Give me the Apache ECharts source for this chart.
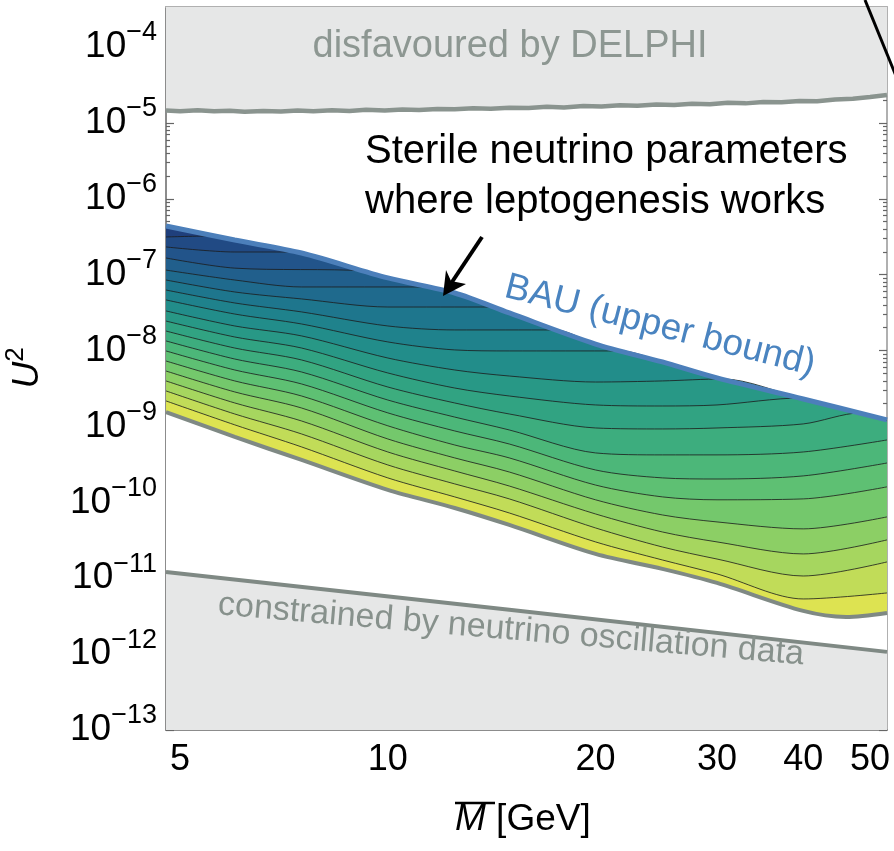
<!DOCTYPE html>
<html><head><meta charset="utf-8">
<script src="https://cdn.jsdelivr.net/npm/echarts@6/dist/echarts.min.js"></script>
<style>html,body{margin:0;padding:0;background:#fff}#c{width:894px;height:851px}</style>
</head><body><div id="c"></div>
<script>
const FONT = "'Liberation Sans', Arial, Helvetica, sans-serif";
// axis ranges
const xMin = 4.77, xMax = 52.9;
const yMin = 1e-13, yMax = 3.37e-4;
// tick labels
const xTickLabels = [5, 10, 20, 30, 40, 50];
const xMinorTickValues = [6, 7, 8, 9, 15, 25, 35, 45];
const yTickLabels = [1e-13, 1e-12, 1e-11, 1e-10, 1e-9, 1e-8, 1e-7, 1e-6, 1e-5, 1e-4];

// boundaries [M (GeV), U^2]
const lowerBound = [[4.77,1.55e-9],[6,7.28e-10],[7.5,3.62e-10],[10,1.46e-10],[12.5,8.43e-11],[15,5.04e-11],[20,2.09e-11],[25,1.33e-11],[30,8.67e-12],[40,3.71e-12],[46.15,3.09e-12],[52.9,3.49e-12]];
const upperBound = [[4.77,4.39e-7],[6,2.86e-7],[7.5,1.93e-7],[10,9.06e-8],[12.5,5.74e-8],[15,3.13e-8],[20,1.22e-8],[25,7.08e-9],[30,4.36e-9],[40,2.30e-9],[52.9,1.22e-9]];
const seesawLine = [[4.77,1.21e-11],[15,3.84e-12],[52.9,1.07e-12]];
const delphiLine = [[4.77,1.46e-5],[5.0,1.43e-5],[5.3,1.47e-5],[5.6,1.42e-5],[5.9,1.45e-5],[6.2,1.40e-5],[6.6,1.44e-5],[7.0,1.41e-5],[7.4,1.46e-5],[7.8,1.43e-5],[8.3,1.47e-5],[8.8,1.44e-5],[9.3,1.49e-5],[9.9,1.46e-5],[10.5,1.50e-5],[11.1,1.48e-5],[11.8,1.53e-5],[12.5,1.51e-5],[13.3,1.56e-5],[14.1,1.54e-5],[15.0,1.59e-5],[16.0,1.57e-5],[17.0,1.63e-5],[18.0,1.60e-5],[19.2,1.67e-5],[20.4,1.65e-5],[21.7,1.71e-5],[23.0,1.68e-5],[24.5,1.75e-5],[26.0,1.72e-5],[27.6,1.79e-5],[29.3,1.76e-5],[31.1,1.84e-5],[33.0,1.81e-5],[35.0,1.89e-5],[37.2,1.87e-5],[39.5,1.95e-5],[41.9,1.93e-5],[44.5,2.03e-5],[47.2,2.08e-5],[50.0,2.20e-5],[52.9,2.33e-5]];

// contour lines (bottom to top)
const contour1 = [[4.77,2.17e-9],[6,1.05e-9],[7.5,5.37e-10],[10,2.10e-10],[12.5,1.18e-10],[15,7.24e-11],[20,3.01e-11],[25,1.74e-11],[30,1.14e-11],[40,5.33e-12],[52.9,6.40e-12]];
const contour2 = [[4.77,2.94e-9],[6,1.46e-9],[7.5,7.96e-10],[10,3.11e-10],[12.5,1.75e-10],[15,1.11e-10],[20,4.60e-11],[25,2.58e-11],[30,1.79e-11],[40,1.07e-11],[52.9,1.64e-11]];
const contour3 = [[4.77,3.98e-9],[6,2.04e-9],[7.5,1.18e-9],[10,4.61e-10],[12.5,2.59e-10],[15,1.64e-10],[20,7.03e-11],[25,4.07e-11],[30,3.01e-11],[40,2.09e-11],[52.9,3.20e-11]];
const contour4 = [[4.77,5.38e-9],[6,2.85e-9],[7.5,1.75e-9],[10,6.84e-10],[12.5,3.85e-10],[15,2.51e-10],[20,1.08e-10],[25,6.82e-11],[30,5.52e-11],[40,4.47e-11],[52.9,6.43e-11]];
const contour5 = [[4.77,7.29e-9],[6,3.98e-9],[7.5,2.52e-9],[10,1.02e-9],[12.5,5.70e-10],[15,3.85e-10],[20,1.69e-10],[25,1.18e-10],[30,1.08e-10],[40,1.11e-10],[52.9,1.60e-10]];
const contour6 = [[4.77,9.89e-9],[6,5.55e-9],[7.5,3.63e-9],[10,1.51e-9],[12.5,8.73e-10],[15,5.87e-10],[20,2.67e-10],[25,2.10e-10],[30,2.03e-10],[40,2.23e-10],[52.9,3.30e-10]];
const contour7 = [[4.77,1.34e-8],[6,7.74e-9],[7.5,5.22e-9],[10,2.23e-9],[12.5,1.33e-9],[15,8.99e-10],[20,4.48e-10],[25,4.22e-10],[30,4.22e-10],[40,4.61e-10],[52.9,6.64e-10]];
const contour8 = [[4.77,1.81e-8],[6,1.08e-8],[7.5,7.52e-9],[10,3.31e-9],[12.5,2.04e-9],[15,1.46e-9],[20,9.55e-10],[25,9.27e-10],[30,9.55e-10],[40,1.08e-9],[48.4,1.51e-9]];
const contour9 = [[4.77,2.45e-8],[6,1.51e-8],[7.5,1.08e-8],[10,5.07e-9],[12.5,3.21e-9],[15,2.52e-9],[20,1.92e-9],[25,1.86e-9],[30,1.92e-9],[39.6,2.37e-9]];
const contour10 = [[4.77,3.33e-8],[6,2.11e-8],[7.5,1.56e-8],[10,7.98e-9],[12.5,5.55e-9],[15,4.62e-9],[20,3.85e-9],[25,3.98e-9],[30.6,4.23e-9]];
const contour11 = [[4.77,4.65e-8],[6,3.03e-8],[7.5,2.24e-8],[10,1.30e-8],[12.5,1.02e-8],[15,9.89e-9],[21.8,9.89e-9]];
const contour12 = [[4.77,6.28e-8],[6,4.24e-8],[7.5,3.23e-8],[10,2.11e-8],[12.5,1.87e-8],[17.5,1.87e-8]];
const contour13 = [[4.77,8.51e-8],[6,5.92e-8],[7.5,4.79e-8],[10,3.75e-8],[14.2,3.75e-8]];
const contour14 = [[4.77,1.15e-7],[6,8.51e-8],[7.5,6.89e-8],[11.4,6.89e-8]];
const contour15 = [[4.77,1.66e-7],[6,1.22e-7],[9.3,1.12e-7]];
const contour16 = [[4.77,2.32e-7],[6,1.99e-7],[7.2,1.99e-7]];
const contour17 = [[4.77,3.14e-7],[5.6,3.24e-7]];
const contours = [contour1,contour2,contour3,contour4,contour5,contour6,contour7,contour8,contour9,contour10,contour11,contour12,contour13,contour14,contour15,contour16,contour17];

// band colours, bottom (yellow) to top (navy)
const bandColors = ['#dde351','#c1dc58','#a6d65f','#8ccf65','#74c86c','#5ec073','#4cb779','#3dad7e','#31a382','#289886','#228d8a','#1f828c','#1e768d','#1f6a8d','#215f8c','#22548a','#214a84','#1f3f7c'];

const yMinorTickValues = [];
for (let n = -13; n <= -4; n++) for (let m = 2; m <= 9; m++) { const v = m * Math.pow(10, n); if (v < yMax) yMinorTickValues.push(v); }

const SMOOTH = 0.3;
const series = [];
// shaded exclusion regions
series.push({ type: 'line', name: 'DELPHI region', data: delphiLine, symbol: 'none', silent: true, z: 1,
  lineStyle: { width: 0 }, areaStyle: { color: '#e6e7e7', opacity: 1, origin: 'end' } });
// top band: filled below the BAU bound
series.push({ type: 'line', name: 'band top', data: upperBound, symbol: 'none', silent: true, z: 2, smooth: SMOOTH,
  lineStyle: { width: 0 }, areaStyle: { color: bandColors[bandColors.length - 1], opacity: 1, origin: 'start' } });
// each contour fills downwards with the colour of the band just below it; drawn top to bottom
for (let k = contours.length - 1; k >= 0; k--) {
  const c = contours[k];
  const endM = c[c.length - 1][0];
  const path = c.concat(upperBound.filter(p => p[0] > endM));
  series.push({ type: 'line', name: 'contour' + (k + 1), data: path, symbol: 'none', silent: true, z: 2, smooth: SMOOTH,
    lineStyle: { color: '#1c1c1c', width: 1, opacity: 0.8 },
    areaStyle: { color: bandColors[k], opacity: 1, origin: 'start' } });
}
// white below the lower bound
series.push({ type: 'line', name: 'lower', data: lowerBound, symbol: 'none', silent: true, z: 2, smooth: SMOOTH,
  lineStyle: { color: '#7f8984', width: 4 }, areaStyle: { color: '#ffffff', opacity: 1, origin: 'start' } });
// seesaw region
series.push({ type: 'line', name: 'seesaw', data: seesawLine, symbol: 'none', silent: true, z: 3,
  lineStyle: { color: '#7f8984', width: 4 }, areaStyle: { color: '#e6e7e7', opacity: 1, origin: 'start' } });
series.push({ type: 'line', name: 'DELPHI', data: delphiLine, symbol: 'none', silent: true, z: 4,
  lineStyle: { color: '#8a948f', width: 4.5 } });
series.push({ type: 'line', name: 'BAU', data: upperBound, symbol: 'none', silent: true, z: 5, smooth: SMOOTH,
  lineStyle: { color: '#4c7fba', width: 5 } });
series.forEach(s => { s.xAxisIndex = 0; s.yAxisIndex = 0; });

const grid = { left: 166, right: 7, top: 7, bottom: 121, containLabel: false };
const baseX = (gi, pos, ticks, len, showLine, showLabel) => ({
  type: 'log', logBase: 10, gridIndex: gi, position: pos, min: xMin, max: xMax,
  axisLine: { show: showLine, onZero: false, lineStyle: { color: pos === 'bottom' ? '#8c8c8c' : '#b0b0b0', width: 2 } },
  axisTick: { show: true, inside: true, length: len, customValues: ticks, lineStyle: { color: '#666', width: 1.2 } },
  axisLabel: showLabel ? { show: true, customValues: xTickLabels, formatter: v => String(Math.round(v)), fontSize: 36, color: '#000', fontFamily: FONT, margin: 12 } : { show: false },
  splitLine: { show: false }
});
const baseY = (gi, pos, ticks, len, showLine, showLabel) => ({
  type: 'log', logBase: 10, gridIndex: gi, position: pos, min: yMin, max: yMax,
  axisLine: { show: showLine, onZero: false, lineStyle: { color: pos === 'left' ? '#8c8c8c' : '#b0b0b0', width: 2 } },
  axisTick: { show: true, inside: true, length: len, customValues: ticks, lineStyle: { color: '#666', width: 1.2 } },
  axisLabel: showLabel ? {
    show: true, customValues: yTickLabels, margin: 9,
    formatter: v => '{b|10}{s|\u2212' + Math.abs(Math.round(Math.log10(v))) + '}',
    rich: {
      b: { fontSize: 37, lineHeight: 55, verticalAlign: 'middle', color: '#000', fontFamily: FONT },
      s: { fontSize: 27, lineHeight: 27, verticalAlign: 'top', color: '#000', fontFamily: FONT }
    }
  } : { show: false },
  splitLine: { show: false }
});

const option = {
  animation: false,
  backgroundColor: '#fff',
  grid: [grid, Object.assign({}, grid)],
  xAxis: [
    baseX(0, 'bottom', xTickLabels, 8, true, true),
    baseX(0, 'top', xTickLabels, 8, true, false),
    baseX(1, 'bottom', xMinorTickValues, 4, false, false),
    baseX(1, 'top', xMinorTickValues, 4, false, false)
  ],
  yAxis: [
    baseY(0, 'left', yTickLabels, 8, true, true),
    baseY(0, 'right', yTickLabels, 8, true, false),
    baseY(1, 'left', yMinorTickValues, 4, false, false),
    baseY(1, 'right', yMinorTickValues, 4, false, false)
  ],
  series,
  graphic: { elements: [
    { type: 'text', x: 365, y: 127, z: 100, style: { text: 'Sterile neutrino parameters\nwhere leptogenesis works', fontSize: 40, lineHeight: 50, fontFamily: FONT, fill: '#000', align: 'left', verticalAlign: 'top' } },
    { type: 'polyline', z: 100, shape: { points: [[482, 237], [446, 291]] }, style: { stroke: '#000', lineWidth: 4, fill: null } },
    { type: 'polygon', z: 100, shape: { points: [[466, 284], [443, 296], [446, 270], [451, 281]] }, style: { fill: '#000' } },
    { type: 'line', z: 100, shape: { x1: 865, y1: 0, x2: 896, y2: 76 }, style: { stroke: '#000', lineWidth: 3 } },
    { type: 'text', x: 510, y: 47, z: 100, style: { text: 'disfavoured by DELPHI', fontSize: 38, fontFamily: FONT, fill: '#8d9792', align: 'center', verticalAlign: 'middle' } },
    { type: 'text', x: 660, y: 326, rotation: -0.25, z: 100, style: { text: 'BAU (upper bound)', fontSize: 37, fontFamily: FONT, fill: '#4a84c0', align: 'center', verticalAlign: 'middle' } },
    { type: 'text', x: 511, y: 630, rotation: -0.0855, z: 100, style: { text: 'constrained by neutrino oscillation data', fontSize: 34, fontFamily: FONT, fill: '#87918c', align: 'center', verticalAlign: 'middle' } },
    { type: 'text', x: 28, y: 368, rotation: Math.PI / 2, z: 100, style: { text: '{i|U}{s|2}', align: 'center', verticalAlign: 'middle',
      rich: { i: { fontSize: 37, lineHeight: 50, fontStyle: 'italic', fontFamily: FONT, fill: '#000', verticalAlign: 'middle' },
              s: { fontSize: 26, lineHeight: 26, fontFamily: FONT, fill: '#000', verticalAlign: 'top' } } } },
    { type: 'text', x: 455, y: 820, z: 100, style: { text: '{i|M} [GeV]', align: 'left', verticalAlign: 'middle',
      rich: { i: { fontSize: 37, fontStyle: 'italic', fontFamily: FONT, fill: '#000' } }, fontSize: 37, fontFamily: FONT, fill: '#000' } },
    { type: 'line', z: 100, shape: { x1: 455, y1: 803, x2: 495, y2: 803 }, style: { stroke: '#000', lineWidth: 2.5 } }
  ] }
};
const chart = echarts.init(document.getElementById('c'), null, { renderer: 'canvas' });
chart.setOption(option);
</script>
</body></html>
